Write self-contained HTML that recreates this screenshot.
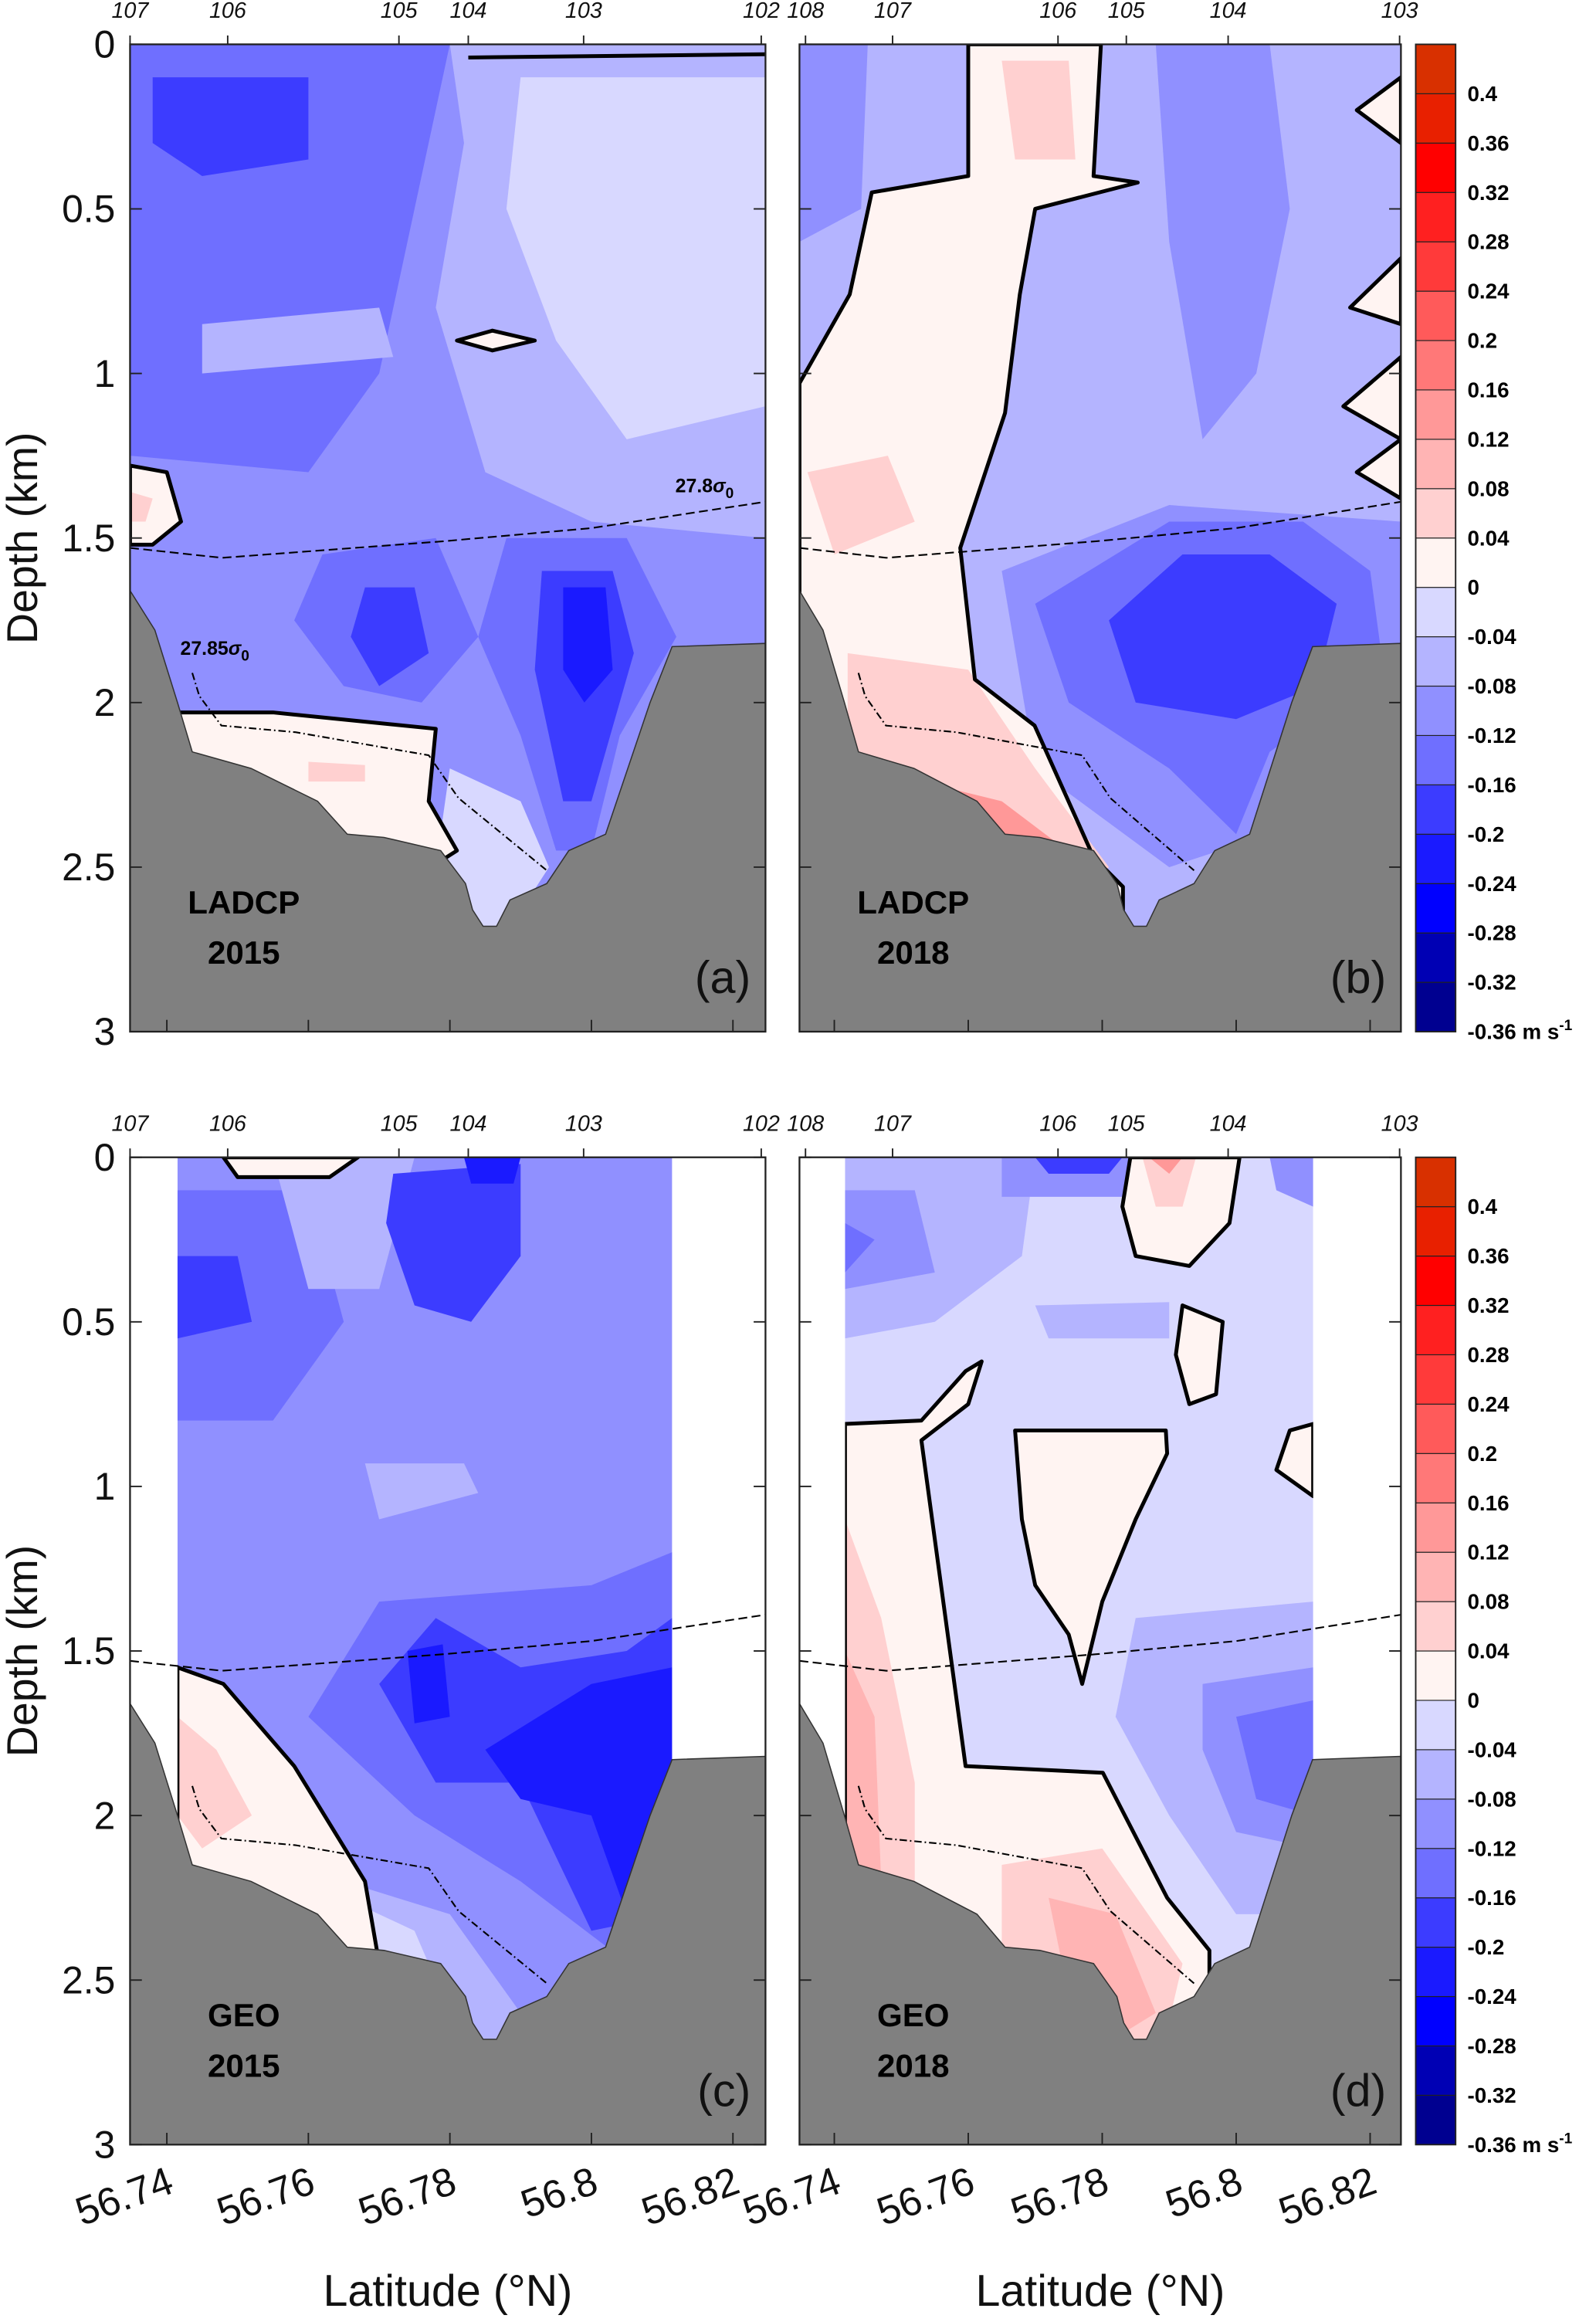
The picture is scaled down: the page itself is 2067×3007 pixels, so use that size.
<!DOCTYPE html>
<html><head><meta charset="utf-8"><style>
html,body{margin:0;padding:0;background:#fff;}
svg{display:block;font-family:"Liberation Sans",sans-serif;}
</style></head><body>
<svg id="fig" width="2067" height="3007" viewBox="0 0 1080 1571" preserveAspectRatio="none" xmlns="http://www.w3.org/2000/svg"></svg>
<script>
const levels=[-0.36,-0.32,-0.28,-0.24,-0.2,-0.16,-0.12,-0.08,-0.04,0,0.04,0.08,0.12,0.16,0.2,0.24,0.28,0.32,0.36,0.4];
const binColors=["#000090","#0000b4","#0000ff","#1a1aff","#3c3cff","#6f6fff","#9090ff","#b4b4ff","#d8d8ff","#fff4f2","#ffd0d0","#ffb4b4","#ff9898","#ff7878","#ff5a5a","#ff3a3a","#ff2020","#ff0000","#e82000","#d83000"];
const latTicks=[56.74,56.76,56.78,56.8,56.82];
const latTickLabels=["56.74","56.76","56.78","56.8","56.82"];
const depthTicks=[0,0.5,1,1.5,2,2.5,3];
const depthTickLabels=["0","0.5","1","1.5","2","2.5","3"];
const stationLatsLeft=[56.7348,56.7486,56.7728,56.7826,56.7989,56.8240];
const stationLabelsLeft=["107","106","105","104","103","102"];
const stationLatsRight=[56.7357,56.7487,56.7734,56.7836,56.7988,56.8244];
const stationLabelsRight=["108","107","106","105","104","103"];
const bathyLat=[56.7348,56.7383,56.7415,56.7436,56.7519,56.7613,56.7655,56.7707,56.7787,56.7822,56.7832,56.7847,56.7866,56.7885,56.7937,56.7968,56.8020,56.8083,56.8114,56.8246];
const bathyDepth=[1.66,1.78,2.0,2.15,2.2,2.3,2.4,2.41,2.45,2.55,2.63,2.68,2.68,2.6,2.55,2.45,2.4,2.0,1.83,1.82];
const iso278Lat=[56.7348,56.7478,56.7791,56.8000,56.8246];
const iso278Depth=[1.53,1.56,1.51,1.47,1.39];
const iso2785Lat=[56.7436,56.7446,56.7477,56.7582,56.7770,56.7812,56.7937];
const iso2785Depth=[1.91,1.98,2.07,2.09,2.16,2.29,2.51];

const blobsA=[
 {v:-0.1,pts:[[56.7348,0],[56.8246,0],[56.8246,3],[56.7348,3]]},
 {v:-0.06,pts:[[56.780,0],[56.8246,0],[56.8246,1.5],[56.800,1.45],[56.785,1.3],[56.778,0.8],[56.782,0.3]]},
 {v:-0.02,pts:[[56.790,0.1],[56.8246,0.1],[56.8246,1.1],[56.805,1.2],[56.795,0.9],[56.788,0.5]]},
 {v:-0.14,pts:[[56.7348,0],[56.780,0],[56.775,0.5],[56.770,1.0],[56.760,1.3],[56.7348,1.25]]},
 {v:-0.18,pts:[[56.738,0.1],[56.760,0.1],[56.760,0.35],[56.745,0.4],[56.738,0.3]]},
 {v:-0.06,pts:[[56.745,0.85],[56.770,0.8],[56.772,0.95],[56.745,1.0]]},
 {v:-0.14,pts:[[56.762,1.55],[56.778,1.5],[56.784,1.8],[56.776,2.0],[56.765,1.95],[56.758,1.75]]},
 {v:-0.18,pts:[[56.768,1.65],[56.775,1.65],[56.777,1.85],[56.770,1.95],[56.766,1.8]]},
 {v:-0.14,pts:[[56.788,1.5],[56.805,1.5],[56.812,1.8],[56.804,2.1],[56.800,2.45],[56.795,2.45],[56.790,2.1],[56.784,1.8]]},
 {v:-0.18,pts:[[56.793,1.6],[56.803,1.6],[56.806,1.85],[56.800,2.3],[56.796,2.3],[56.792,1.9]]},
 {v:-0.22,pts:[[56.796,1.65],[56.802,1.65],[56.803,1.9],[56.799,2.0],[56.796,1.9]]},
 {v:-0.02,pts:[[56.780,2.2],[56.790,2.3],[56.794,2.5],[56.785,2.8],[56.778,2.5]]},
 {v:0.02,line:true,pts:[[56.7348,2.03],[56.7415,2.03],[56.755,2.03],[56.778,2.08],[56.777,2.3],[56.781,2.45],[56.770,2.6],[56.7348,2.6]]},
 {v:0.06,pts:[[56.760,2.18],[56.768,2.19],[56.768,2.24],[56.760,2.24]]},
 {v:0.02,line:true,pts:[[56.7348,1.28],[56.740,1.3],[56.742,1.45],[56.738,1.52],[56.7348,1.52]]},
 {v:0.06,pts:[[56.7348,1.36],[56.738,1.38],[56.737,1.45],[56.7348,1.45]]},
 {v:0.02,line:true,pts:[[56.781,0.9],[56.786,0.87],[56.792,0.9],[56.786,0.93]]}
];
const blobsB=[
 {v:-0.06,pts:[[56.7348,0],[56.8246,0],[56.8246,3],[56.7348,3]]},
 {v:-0.1,pts:[[56.788,0],[56.805,0],[56.808,0.5],[56.803,1.0],[56.795,1.2],[56.790,0.6]]},
 {v:-0.1,pts:[[56.7348,0],[56.745,0],[56.744,0.5],[56.7348,0.6]]},
 {v:-0.1,pts:[[56.765,1.6],[56.790,1.4],[56.8246,1.45],[56.8246,2.0],[56.805,2.4],[56.790,2.5],[56.770,2.2]]},
 {v:-0.14,pts:[[56.770,1.7],[56.790,1.45],[56.810,1.45],[56.820,1.6],[56.822,1.9],[56.805,2.15],[56.800,2.4],[56.790,2.2],[56.775,2.0]]},
 {v:-0.18,pts:[[56.781,1.75],[56.792,1.55],[56.805,1.55],[56.815,1.7],[56.812,1.95],[56.800,2.05],[56.785,2.0]]},
 {v:0.02,line:true,pts:[[56.7600,0],[56.7798,0],[56.7787,0.40],[56.7853,0.42],[56.770,0.5],[56.7677,0.76],[56.7655,1.12],[56.7588,1.53],[56.7610,1.93],[56.7699,2.07],[56.7787,2.47],[56.7831,2.56],[56.7831,3],[56.7348,3],[56.7348,1.03],[56.7423,0.76],[56.7456,0.45],[56.7600,0.40]]},
 {v:0.06,pts:[[56.765,0.05],[56.775,0.05],[56.776,0.35],[56.767,0.35]]},
 {v:0.06,pts:[[56.736,1.3],[56.748,1.25],[56.752,1.45],[56.740,1.55]]},
 {v:0.06,pts:[[56.742,1.85],[56.760,1.9],[56.770,2.2],[56.781,2.5],[56.775,2.6],[56.742,2.6]]},
 {v:0.14,pts:[[56.745,2.2],[56.765,2.3],[56.778,2.5],[56.770,2.6],[56.745,2.6]]},
 {v:0.02,line:true,pts:[[56.8246,0.1],[56.818,0.2],[56.8246,0.3]]},
 {v:0.02,line:true,pts:[[56.8246,0.65],[56.817,0.8],[56.8246,0.85]]},
 {v:0.02,line:true,pts:[[56.8246,0.95],[56.816,1.1],[56.8246,1.2]]},
 {v:0.02,line:true,pts:[[56.8246,1.2],[56.818,1.3],[56.8246,1.38]]}
];
const blobsC=[
 {v:-0.1,pts:[[56.7415,0],[56.8114,0],[56.8114,3],[56.7415,3]]},
 {v:-0.14,pts:[[56.7415,0.1],[56.760,0.1],[56.765,0.5],[56.755,0.8],[56.7415,0.8]]},
 {v:-0.18,pts:[[56.7415,0.3],[56.750,0.3],[56.752,0.5],[56.7415,0.55]]},
 {v:-0.06,pts:[[56.755,0],[56.775,0],[56.770,0.4],[56.760,0.4]]},
 {v:0.02,line:true,pts:[[56.748,0],[56.767,0],[56.763,0.06],[56.750,0.06]]},
 {v:-0.18,pts:[[56.772,0.05],[56.790,0.02],[56.790,0.3],[56.783,0.5],[56.775,0.45],[56.771,0.2]]},
 {v:-0.22,pts:[[56.782,0],[56.790,0],[56.789,0.08],[56.783,0.08]]},
 {v:-0.06,pts:[[56.768,0.93],[56.782,0.93],[56.784,1.02],[56.770,1.1]]},
 {v:-0.14,pts:[[56.760,1.7],[56.770,1.35],[56.800,1.3],[56.8114,1.2],[56.8114,2.55],[56.790,2.2],[56.775,2.0]]},
 {v:-0.18,pts:[[56.770,1.6],[56.778,1.4],[56.790,1.55],[56.805,1.5],[56.8114,1.4],[56.8114,2.3],[56.800,2.35],[56.790,1.9],[56.778,1.9]]},
 {v:-0.22,pts:[[56.785,1.8],[56.800,1.6],[56.8114,1.55],[56.8114,2.1],[56.805,2.3],[56.800,2.0],[56.790,1.95]]},
 {v:-0.22,pts:[[56.774,1.5],[56.779,1.48],[56.780,1.7],[56.775,1.72]]},
 {v:-0.06,pts:[[56.765,2.2],[56.780,2.3],[56.790,2.6],[56.785,2.8],[56.770,2.6]]},
 {v:-0.02,pts:[[56.765,2.25],[56.775,2.35],[56.780,2.6],[56.770,2.6]]},
 {v:0.02,line:true,pts:[[56.7415,1.55],[56.748,1.6],[56.758,1.85],[56.768,2.2],[56.770,2.45],[56.760,2.5],[56.7415,2.5]]},
 {v:0.06,pts:[[56.7415,1.7],[56.747,1.8],[56.752,2.0],[56.745,2.1],[56.7415,2.0]]}
];
const blobsD=[
 {v:-0.02,pts:[[56.7416,0],[56.8115,0],[56.8115,3],[56.7416,3]]},
 {v:-0.06,pts:[[56.7416,0],[56.770,0],[56.768,0.3],[56.755,0.5],[56.7416,0.55]]},
 {v:-0.1,pts:[[56.7416,0.1],[56.752,0.1],[56.755,0.35],[56.7416,0.4]]},
 {v:-0.14,pts:[[56.7416,0.2],[56.746,0.25],[56.7416,0.35]]},
 {v:-0.1,pts:[[56.765,0],[56.7842,0],[56.783,0.12],[56.765,0.12]]},
 {v:-0.2,pts:[[56.770,0],[56.783,0],[56.781,0.05],[56.772,0.05]]},
 {v:-0.1,pts:[[56.805,0],[56.8115,0],[56.8115,0.15],[56.806,0.1]]},
 {v:-0.06,pts:[[56.770,0.45],[56.790,0.44],[56.790,0.55],[56.772,0.55]]},
 {v:-0.06,pts:[[56.785,1.4],[56.8115,1.35],[56.8115,2.3],[56.800,2.3],[56.790,2.0],[56.782,1.7]]},
 {v:-0.1,pts:[[56.795,1.6],[56.8115,1.55],[56.8115,2.1],[56.800,2.05],[56.795,1.8]]},
 {v:-0.14,pts:[[56.800,1.7],[56.8115,1.65],[56.8115,2.0],[56.803,1.95]]},
 {v:0.02,line:true,pts:[[56.7416,0.81],[56.7530,0.80],[56.7596,0.65],[56.762,0.62],[56.760,0.75],[56.7530,0.86],[56.7596,1.85],[56.7801,1.87],[56.7897,2.25],[56.7960,2.41],[56.7960,3],[56.7416,3]]},
 {v:0.06,pts:[[56.7416,1.1],[56.747,1.4],[56.752,1.9],[56.752,2.3],[56.7416,2.5]]},
 {v:0.1,pts:[[56.7416,1.5],[56.746,1.7],[56.747,2.2],[56.7416,2.2]]},
 {v:0.06,pts:[[56.765,2.15],[56.780,2.1],[56.792,2.45],[56.788,2.8],[56.775,2.7],[56.765,2.4]]},
 {v:0.1,pts:[[56.772,2.25],[56.782,2.3],[56.788,2.6],[56.780,2.7],[56.774,2.45]]},
 {v:0.02,line:true,pts:[[56.7842,0],[56.8005,0],[56.799,0.2],[56.793,0.33],[56.785,0.3],[56.783,0.15]]},
 {v:0.06,pts:[[56.786,0],[56.794,0],[56.792,0.15],[56.788,0.15]]},
 {v:0.14,pts:[[56.787,0],[56.792,0],[56.790,0.05]]},
 {v:0.02,line:true,pts:[[56.7670,0.83],[56.7895,0.83],[56.7897,0.9],[56.785,1.1],[56.780,1.35],[56.777,1.6],[56.775,1.45],[56.770,1.3],[56.768,1.1]]},
 {v:0.02,line:true,pts:[[56.792,0.45],[56.798,0.5],[56.797,0.72],[56.793,0.75],[56.791,0.6]]},
 {v:0.02,line:true,pts:[[56.808,0.83],[56.8115,0.81],[56.8115,1.03],[56.806,0.95]]}
];

const NS="http://www.w3.org/2000/svg";
const svg=document.getElementById('fig');
function mk(tag,attrs,parent){const e=document.createElementNS(NS,tag);for(const k in attrs)e.setAttribute(k,attrs[k]);(parent||svg).appendChild(e);return e;}
const LAT0=56.7348,LAT1=56.8246;
function X(p,lat){return p.x0+(lat-LAT0)/(LAT1-LAT0)*(p.x1-p.x0);}
function Y(p,d){return p.y0+d/3*(p.y1-p.y0);}
function colorOf(v){let i=Math.floor((v+0.36)/0.04+1e-9);i=Math.max(0,Math.min(binColors.length-1,i));return binColors[i];}
function ptsStr(p,arr){return arr.map(q=>X(p,q[0]).toFixed(1)+","+Y(p,q[1]).toFixed(1)).join(" ");}

const panels=[
 {id:'a',x0:88,x1:518,y0:30,y1:698,blobs:blobsA,data:null,left:true,tag:['LADCP','2015'],st:[stationLatsLeft,stationLabelsLeft]},
 {id:'b',x0:541,x1:948,y0:30,y1:698,blobs:blobsB,data:null,left:false,tag:['LADCP','2018'],st:[stationLatsRight,stationLabelsRight]},
 {id:'c',x0:88,x1:518,y0:783,y1:1451,blobs:blobsC,data:[56.7415,56.8114],left:true,tag:['GEO','2015'],st:[stationLatsLeft,stationLabelsLeft],bottom:true},
 {id:'d',x0:541,x1:948,y0:783,y1:1451,blobs:blobsD,data:[56.7416,56.8115],left:false,tag:['GEO','2018'],st:[stationLatsRight,stationLabelsRight],bottom:true}
];

panels.forEach(p=>{
 const g=mk('g',{});
 
 
 const cp=mk('clipPath',{id:'clip'+p.id},g);
 mk('rect',{x:p.x0,y:p.y0,width:p.x1-p.x0,height:p.y1-p.y0},cp);
 const inner=mk('g',{'clip-path':'url(#clip'+p.id+')'},g);
 p.blobs.forEach((b,i)=>{
  const e=mk('polygon',{points:ptsStr(p,b.pts),fill:colorOf(b.v)},inner);
  
  
 });
 p.blobs.forEach(b=>{ if(b.line){
  const e=mk('polygon',{points:ptsStr(p,b.pts),fill:'none',stroke:'#000','stroke-width':2.6,'stroke-linejoin':'round'},inner);
  
  
 }});
 if(p.id==='a'){
  const e=mk('polyline',{points:ptsStr(p,[[56.7826,0.04],[56.8246,0.03]]),fill:'none',stroke:'#000','stroke-width':2.6},inner);
  
  
 }
 if(p.data){
  const w1=mk('rect',{x:p.x0,y:p.y0,width:X(p,p.data[0])-p.x0,height:p.y1-p.y0,fill:'#fff'},inner);
  
  
  const w2=mk('rect',{x:X(p,p.data[1]),y:p.y0,width:p.x1-X(p,p.data[1]),height:p.y1-p.y0,fill:'#fff'},inner);
  
  
 }
 const iso1=mk('polyline',{points:ptsStr(p,iso278Lat.map((l,i)=>[l,iso278Depth[i]])),fill:'none',stroke:'#000','stroke-width':1.1,'stroke-dasharray':'6,3'},inner);
 
 
 const iso2=mk('polyline',{points:ptsStr(p,iso2785Lat.map((l,i)=>[l,iso2785Depth[i]])),fill:'none',stroke:'#000','stroke-width':1.1,'stroke-dasharray':'5,2,1,2'},inner);
 
 
 const bp=bathyLat.map((l,i)=>[l,bathyDepth[i]]).concat([[LAT1,3],[LAT0,3]]);
 const bathy=mk('polygon',{points:ptsStr(p,bp),fill:'#808080',stroke:'#333','stroke-width':0.8},inner);
 
 
 const fr=mk('rect',{x:p.x0,y:p.y0,width:p.x1-p.x0,height:p.y1-p.y0,fill:'none',stroke:'#222','stroke-width':1.2},g);
 
 
 depthTicks.forEach((d,i)=>{
  mk('line',{x1:p.x0,x2:p.x0+8,y1:Y(p,d),y2:Y(p,d),stroke:'#222','stroke-width':1},g);
  mk('line',{x1:p.x1,x2:p.x1-8,y1:Y(p,d),y2:Y(p,d),stroke:'#222','stroke-width':1},g);
  if(p.left){
   const t=mk('text',{x:p.x0-10,y:Y(p,d)+9,'text-anchor':'end','font-size':26,fill:'#111'},g);
   t.textContent=depthTickLabels[i];
   
   
  }
 });
 latTicks.forEach((l,i)=>{
  mk('line',{x1:X(p,l),x2:X(p,l),y1:p.y1,y2:p.y1-8,stroke:'#222','stroke-width':1},g);
  if(p.bottom){
   const x=X(p,l)+6,y=p.y1+32;
   const t=mk('text',{x:x,y:y,'text-anchor':'end','font-size':27,fill:'#111',transform:'rotate(-20 '+x+' '+y+')'},g);
   t.textContent=latTickLabels[i];
   
   
  }
 });
 p.st[0].forEach((l,i)=>{
  mk('line',{x1:X(p,l),x2:X(p,l),y1:p.y0,y2:p.y0-6,stroke:'#222','stroke-width':1},g);
  const t=mk('text',{x:X(p,l),y:p.y0-18,'text-anchor':'middle','font-size':15,'font-style':'italic',fill:'#111'},g);
  t.textContent=p.st[1][i];
  
  
 });
 const cx=p.x0+77;
 const t1=mk('text',{x:cx,y:p.y1-80,'text-anchor':'middle','font-size':22,'font-weight':'bold',fill:'#000'},g);
 t1.textContent=p.tag[0];
 
 
 const t2=mk('text',{x:cx,y:p.y1-46,'text-anchor':'middle','font-size':22,'font-weight':'bold',fill:'#000'},g);
 t2.textContent=p.tag[1];
 
 
 const t3=mk('text',{x:p.x1-10,y:p.y1-26,'text-anchor':'end','font-size':31,fill:'#111'},g);
 t3.textContent='('+p.id+')';
 
 
 if(p.left){
  const yc=(p.y0+p.y1)/2;
  const t=mk('text',{x:25,y:yc,'text-anchor':'middle','font-size':29,fill:'#111',transform:'rotate(-90 25 '+yc+')'},g);
  t.textContent='Depth (km)';
  
  
 }
 if(p.bottom){
  const t=mk('text',{x:(p.x0+p.x1)/2,y:1560,'text-anchor':'middle','font-size':30,fill:'#111'},g);
  t.textContent='Latitude (°N)';
  
  
 }
 if(p.id==='a'){
  const t=mk('text',{x:457,y:333,'font-size':13,'font-weight':'bold'},g);
  t.innerHTML='27.8<tspan font-style="italic">σ</tspan><tspan font-size="10" dy="4">0</tspan>';
  
  
  const t4=mk('text',{x:122,y:443,'font-size':13,'font-weight':'bold'},g);
  t4.innerHTML='27.85<tspan font-style="italic">σ</tspan><tspan font-size="10" dy="4">0</tspan>';
  
  
 }
});

[[30,698],[783,1451]].forEach(([y0,y1])=>{
 const g=mk('g',{});
 
 
 const n=binColors.length,h=(y1-y0)/n;
 binColors.forEach((c,i)=>{
  const r=mk('rect',{x:958,y:y1-(i+1)*h,width:27,height:h,fill:c,stroke:'#222','stroke-width':0.6},g);
  
  
 });
 mk('rect',{x:958,y:y0,width:27,height:y1-y0,fill:'none',stroke:'#222','stroke-width':1},g);
 levels.forEach((v,i)=>{
  const y=y1-i*h+5;
  const t=mk('text',{x:993,y:y,'font-size':14.5,'font-weight':'bold',fill:'#000'},g);
  t.textContent=String(v);
  if(i===0){t.innerHTML=String(v)+' m s<tspan font-size="10" dy="-6">-1</tspan>';}
  
  
 });
});
</script>
</body></html>
